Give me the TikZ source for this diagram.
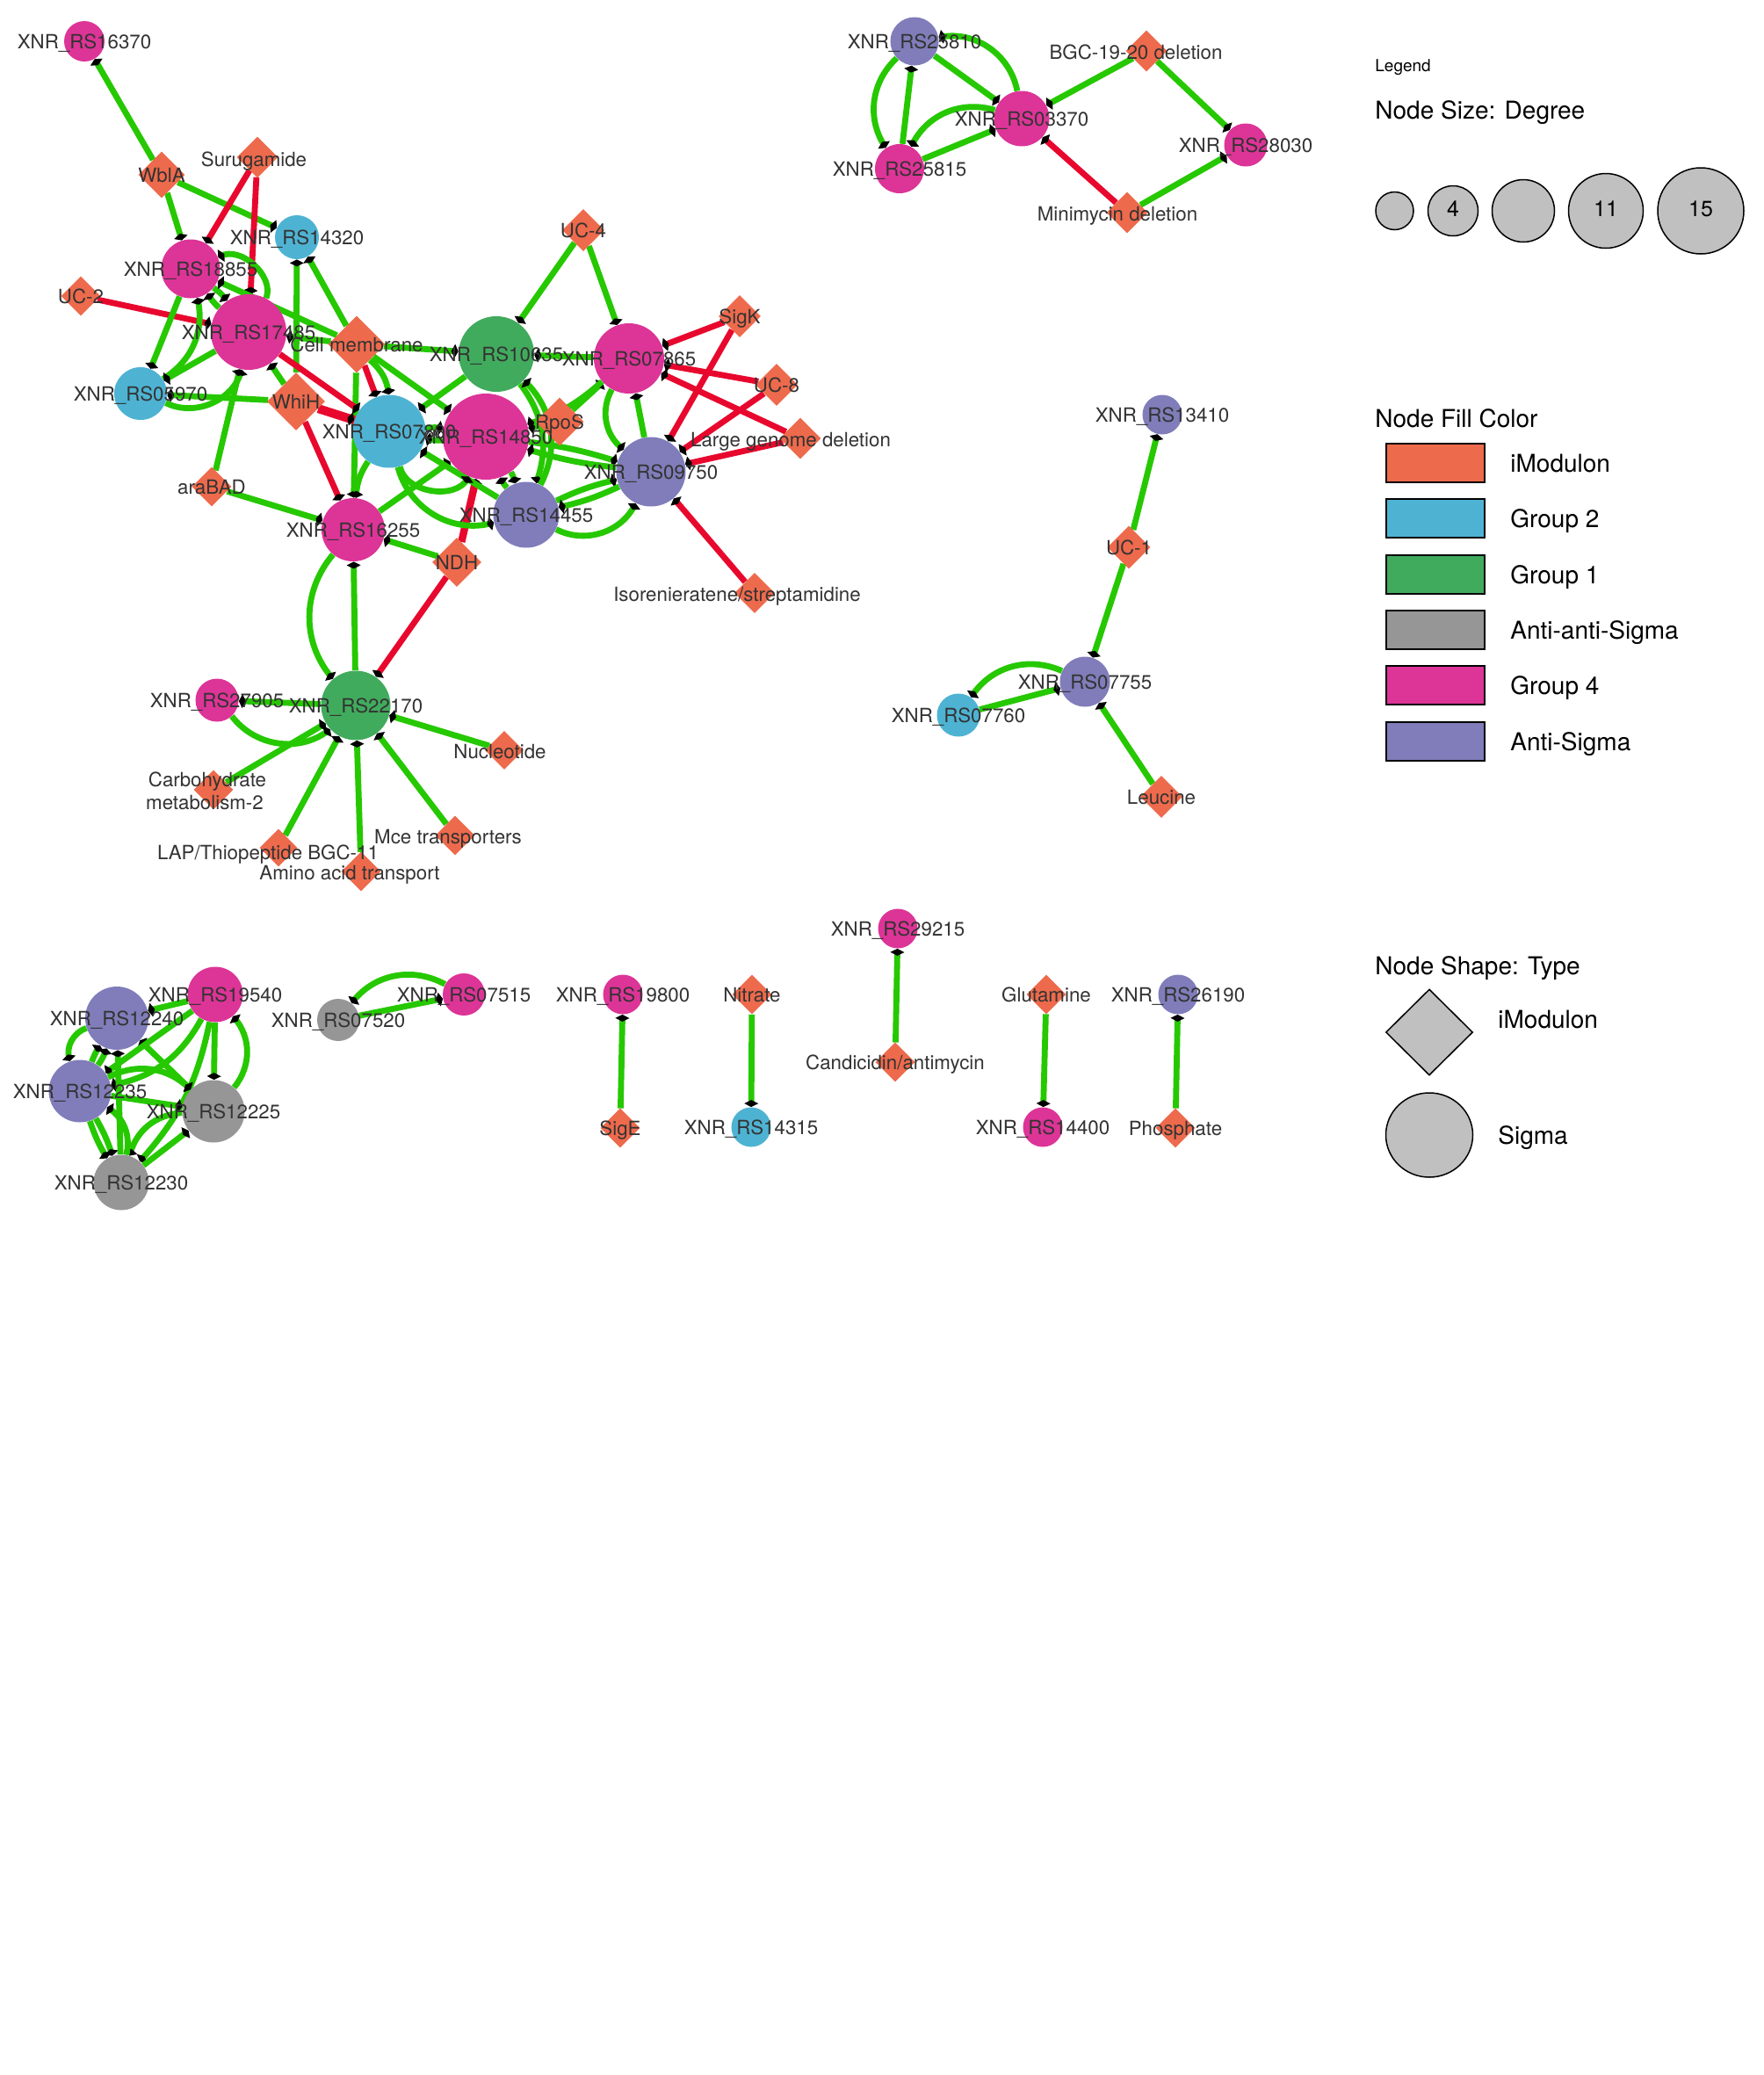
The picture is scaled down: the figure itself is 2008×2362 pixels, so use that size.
\documentclass[tikz,border=0pt]{standalone}
\usepackage{fontspec}
\setmainfont{TeX Gyre Heros}
\usetikzlibrary{shapes.geometric,arrows.meta}
\definecolor{cimod}{HTML}{EE6A4C}
\definecolor{cgtwo}{HTML}{4EB3D3}
\definecolor{cgone}{HTML}{41AB5D}
\definecolor{caas}{HTML}{969696}
\definecolor{cgfour}{HTML}{DD3497}
\definecolor{cas}{HTML}{807DBA}
\definecolor{egreen}{HTML}{26C800}
\definecolor{ered}{HTML}{E8082E}
\definecolor{ltxt}{HTML}{333333}
\definecolor{lgray}{HTML}{C0C0C0}
\pgfdeclarelayer{bglayer}
\pgfdeclarelayer{edgelayer}
\pgfdeclarelayer{labellayer}
\pgfsetlayers{bglayer,edgelayer,main,labellayer}
\tikzset{
  sigma/.style={circle,inner sep=0pt,draw=none},
  imod/.style={diamond,inner sep=0pt,draw=none,fill=cimod},
  lbl/.style={inner sep=0pt,text=ltxt,font=\fontsize{11.15}{13}\selectfont,text height=8pt,text depth=0pt},
  ge/.style={draw=egreen,line width=3.4pt,-{Diamond[length=4pt,width=8pt,color=black,fill=black]}},
  re/.style={ge,draw=ered},
  lgt/.style={inner sep=0pt,anchor=west,font=\fontsize{14}{16}\selectfont,text height=10pt,text depth=0pt},
  lgbox/.style={draw=black,line width=0.75pt},
}
\newcommand\xnr[1]{XNR\_RS#1}
\newcommand\SG[6]{\node[sigma,fill=#4,minimum size=#5*0.5pt] (#1) at (#2,#3) {};
  \begin{pgfonlayer}{labellayer}\node[lbl] at (#2,#3) {#6};\end{pgfonlayer}}
\newcommand\IM[5]{\node[imod,minimum width=#4*0.5pt,minimum height=#4*0.5pt] (#1) at (#2,#3) {};
  \begin{pgfonlayer}{labellayer}\node[lbl] at (#2,#3) {#5};\end{pgfonlayer}}
\newcommand\IMl[7]{\node[imod,minimum width=#4*0.5pt,minimum height=#4*0.5pt] (#1) at (#2,#3) {};
  \begin{pgfonlayer}{labellayer}\node[lbl] at (#5,#6) {#7};\end{pgfonlayer}}
\begin{document}
\begin{tikzpicture}[x=0.5pt,y=-0.5pt]
\begin{pgfonlayer}{bglayer}
\fill[white] (0,0) rectangle (2008,2362);
\end{pgfonlayer}
\useasboundingbox (0,0) rectangle (2008,2362);
% ---------------- main cluster nodes
\SG{s16370}{96}{47}{cgfour}{46}{\xnr{16370}}
\IM{WblA}{184}{199}{53}{WblA}
\IMl{Suru}{293}{179}{47}{289}{181}{Surugamide}
\SG{s14320}{338}{270}{cgtwo}{50}{\xnr{14320}}
\IM{UCfour}{664}{262}{48}{UC-4}
\SG{s18855}{217}{306}{cgfour}{67}{\xnr{18855}}
\IM{UCtwo}{92}{337}{45}{UC-2}
\SG{s17485}{283}{378}{cgfour}{86}{\xnr{17485}}
\IM{CellM}{406}{392}{65}{Cell membrane}
\SG{s10635}{565}{403}{cgone}{86}{\xnr{10635}}
\SG{s05970}{160}{448}{cgtwo}{60}{\xnr{05970}}
\IM{WhiH}{337}{457}{66}{WhiH}
\SG{s07xx}{443}{491}{cgtwo}{83}{\xnr{07880}}
\SG{s14850}{553}{497}{cgfour}{98}{\xnr{14850}}
\IM{RpoS}{637}{480}{55}{RpoS}
\SG{s07865}{716}{408}{cgfour}{80}{\xnr{07865}}
\IM{SigK}{842}{360}{48}{SigK}
\IM{UCeight}{884}{438}{48}{UC-8}
\IMl{LGD}{911}{499}{47}{900}{500}{Large genome deletion}
\SG{s09750}{741}{537}{cas}{79}{\xnr{09750}}
\SG{s14455}{599}{586}{cas}{75}{\xnr{14455}}
\SG{s16255}{402}{603}{cgfour}{72}{\xnr{16255}}
\IM{NDH}{520}{640}{56}{NDH}
\IM{araBAD}{241}{554}{45}{araBAD}
\IMl{Isor}{859}{675}{46}{839}{676}{Isorenieratene/streptamidine}
\SG{s22170}{405}{803}{cgone}{79}{\xnr{22170}}
\SG{s27905}{247}{797}{cgfour}{49}{\xnr{27905}}
\IMl{Nucl}{574}{854}{44}{569}{855}{Nucleotide}
\node[imod,minimum width=45*0.5pt,minimum height=45*0.5pt] (Carbo) at (243,899) {};
\begin{pgfonlayer}{labellayer}
\node[lbl] at (236,887) {Carbohydrate};
\node[lbl] at (233,913) {metabolism-2};
\end{pgfonlayer}
\IMl{LAP}{317}{965}{43}{305}{970}{LAP/Thiopeptide BGC-11}
\IMl{Amino}{411}{992}{45}{398}{993}{Amino acid transport}
\IMl{Mce}{518}{951}{45}{510}{952}{Mce transporters}
% ---------------- top middle
\SG{s25810}{1041}{47}{cas}{55}{\xnr{25810}}
\SG{s03370}{1163}{135}{cgfour}{63}{\xnr{03370}}
\SG{s25815}{1024}{192}{cgfour}{56}{\xnr{25815}}
\IMl{BGC}{1305}{58}{47}{1293}{59}{BGC-19-20 deletion}
\SG{s28030}{1418}{165}{cgfour}{49}{\xnr{28030}}
\IMl{Mini}{1283}{242}{47}{1272}{243}{Minimycin deletion}
% ---------------- right middle
\SG{s13410}{1323}{472}{cas}{45}{\xnr{13410}}
\IM{UCone}{1285}{623}{49}{UC-1}
\SG{s07755}{1235}{776}{cas}{57}{\xnr{07755}}
\SG{s07760}{1091}{814}{cgtwo}{49}{\xnr{07760}}
\IM{Leuc}{1322}{907}{48}{Leucine}
% ---------------- bottom left
\SG{s19540}{245}{1132}{cgfour}{63}{\xnr{19540}}
\SG{s12240}{133}{1159}{cas}{72}{\xnr{12240}}
\SG{s12235}{91}{1242}{cas}{71}{\xnr{12235}}
\SG{s12225}{243}{1265}{caas}{71}{\xnr{12225}}
\SG{s12230}{138}{1346}{caas}{63}{\xnr{12230}}
\SG{s07520}{385}{1161}{caas}{48}{\xnr{07520}}
\SG{s07515}{528}{1132}{cgfour}{48}{\xnr{07515}}
% ---------------- small pairs
\SG{s19800}{709}{1132}{cgfour}{45}{\xnr{19800}}
\IM{SigE}{706}{1284}{45}{SigE}
\IM{Nitr}{856}{1132}{45}{Nitrate}
\SG{s14315}{855}{1283}{cgtwo}{45}{\xnr{14315}}
\SG{s29215}{1022}{1057}{cgfour}{45}{\xnr{29215}}
\IM{Cand}{1019}{1209}{45}{Candicidin/antimycin}
\IM{Glut}{1191}{1132}{45}{Glutamine}
\SG{s14400}{1187}{1283}{cgfour}{45}{\xnr{14400}}
\SG{s26190}{1341}{1132}{cas}{45}{\xnr{26190}}
\IM{Phos}{1338}{1284}{45}{Phosphate}
% ---------------- edges
\begin{pgfonlayer}{edgelayer}
\draw[ge] (WblA) -- (s16370);
\draw[ge] (WblA) -- (s14320);
\draw[ge] (WblA) -- (s18855);
\draw[re] (Suru) -- (s18855);
\draw[re] (Suru) -- (s17485);
\draw[re] (UCtwo) -- (s17485);
\draw[ge] (s18855) to[bend left=8] (s17485);
\draw[ge] (s17485) to[bend left=8] (s18855);
\draw[ge] (s17485) to[bend right=70] (s18855);
\draw[ge] (s18855) -- (s05970);
\draw[ge] (s05970) to[bend right=35] (s18855);
\draw[ge] (s17485) -- (s05970);
\draw[ge] (s05970) to[bend right=50] (s17485);
\draw[ge] (WhiH) -- (s05970);
\draw[ge] (WhiH) -- (s17485);
\draw[ge] (WhiH) -- (s14320);
\draw[ge] (CellM) -- (s14320);
\draw[ge] (CellM) -- (s17485);
\draw[ge] (CellM) -- (s18855);
\draw[ge] (CellM) -- (s10635);
\draw[re] (CellM) -- (s07xx);
\draw[ge] (CellM) to[bend left=20] (s07xx);
\draw[ge] (CellM) -- (s14850);
\draw[ge] (CellM) -- (s16255);
\draw[re,line width=5pt] (WhiH) -- (s07xx);
\draw[re] (s17485) -- (s07xx);
\draw[re] (WhiH) -- (s16255);
\draw[ge] (araBAD) -- (s17485);
\draw[ge] (araBAD) -- (s16255);
\draw[ge] (s07xx) to[bend right=15] (s16255);
\draw[ge] (s16255) -- (s14850);
\draw[ge] (NDH) -- (s16255);
\draw[re,line width=4.2pt] (NDH) -- (s14850);
\draw[re] (NDH) -- (s22170);
\draw[ge] (s22170) -- (s16255);
\draw[ge] (s16255) to[bend right=40] (s22170);
\draw[ge] (s22170) -- (s27905);
\draw[ge] (s27905) to[bend right=45] (s22170);
\draw[ge] (Carbo) -- (s22170);
\draw[ge] (LAP) -- (s22170);
\draw[ge] (Amino) -- (s22170);
\draw[ge] (Mce) -- (s22170);
\draw[ge] (Nucl) -- (s22170);
% central
\draw[ge] (UCfour) -- (s10635);
\draw[ge] (UCfour) -- (s07865);
\draw[ge] (s07865) -- (s10635);
\draw[re] (SigK) -- (s07865);
\draw[re] (UCeight) -- (s07865);
\draw[re] (LGD) -- (s07865);
\draw[re] (SigK) -- (s09750);
\draw[re] (UCeight) -- (s09750);
\draw[re] (LGD) -- (s09750);
\draw[re] (Isor) -- (s09750);
\draw[ge] (s09750) -- (s07865);
\draw[ge] (s07865) to[bend right=40] (s09750);
\draw[ge] (s10635) -- (s07xx);
\draw[ge] (RpoS) -- (s07865);
\draw[ge] (RpoS) -- (s14850);
\draw[ge] (s07865) to[bend left=12] (s14850);
\draw[ge] (s10635) to[bend left=28] (s14455);
\draw[ge] (s14455) to[bend right=36] (s10635);
\draw[ge] (s14850) to[bend left=8] (s14455);
\draw[ge] (s14455) to[bend left=8] (s14850);
\draw[ge] (s14455) -- (s07xx);
\draw[ge] (s07xx) to[bend right=45] (s14455);
\draw[ge] (s07xx) to[bend right=70] (s14850);
\draw[ge] (s07xx) to[bend left=8] (s14850);
\draw[ge] (s14850) to[bend left=8] (s07xx);
\draw[ge] (s14850) to[bend left=5] (s09750);
\draw[ge] (s09750) to[bend left=5] (s14850);
\draw[ge] (s14455) to[bend left=6] (s09750);
\draw[ge] (s09750) to[bend left=6] (s14455);
\draw[ge] (s14455) to[bend right=45] (s09750);
% top middle
\draw[ge] (BGC) -- (s03370);
\draw[ge] (BGC) -- (s28030);
\draw[re] (Mini) -- (s03370);
\draw[ge] (Mini) -- (s28030);
\draw[ge] (s25810) -- (s03370);
\draw[ge] (s03370) to[bend right=45] (s25810);
\draw[ge] (s25815) -- (s25810);
\draw[ge] (s25810) to[bend right=40] (s25815);
\draw[ge] (s25815) -- (s03370);
\draw[ge] (s03370) to[bend right=40] (s25815);
% right middle
\draw[ge] (UCone) -- (s13410);
\draw[ge] (UCone) -- (s07755);
\draw[ge] (Leuc) -- (s07755);
\draw[ge] (s07760) -- (s07755);
\draw[ge] (s07755) to[bend right=40] (s07760);
% bottom left
\draw[ge] (s19540) -- (s12240);
\draw[ge] (s19540) -- (s12225);
\draw[ge] (s12225) to[bend right=40] (s19540);
\draw[ge] (s12240) to[bend right=45] (s12235);
\draw[ge] (s12235) to[bend left=5] (s12240);
\draw[ge] (s12235) to[bend right=8] (s12240);
\draw[ge] (s12225) -- (s12240);
\draw[ge] (s19540) -- (s12235);
\draw[ge] (s19540) to[bend left=25] (s12235);
\draw[ge] (s19540) to[bend left=15] (s12230);
\draw[ge] (s12230) -- (s12240);
\draw[ge] (s12235) -- (s12225);
\draw[ge] (s12235) to[bend left=35] (s12225);
\draw[ge] (s12235) to[bend left=6] (s12230);
\draw[ge] (s12235) to[bend right=6] (s12230);
\draw[ge] (s12230) -- (s12225);
\draw[ge] (s12225) to[bend right=35] (s12230);
\draw[ge] (s12230) to[bend right=35] (s12235);
\draw[ge] (s07520) -- (s07515);
\draw[ge] (s07515) to[bend right=40] (s07520);
% pairs
\draw[ge] (SigE) -- (s19800);
\draw[ge] (Nitr) -- (s14315);
\draw[ge] (Cand) -- (s29215);
\draw[ge] (Glut) -- (s14400);
\draw[ge] (Phos) -- (s26190);
\end{pgfonlayer}
% ---------------- legend
\node[inner sep=0pt,anchor=west,font=\fontsize{9.5}{11}\selectfont,text height=6.8pt,text depth=0pt] (lgtitle) at (1565,74.5) {Legend};
\node[lgt] (lgsize) at (1565,125) {Node Size: Degree};
\node[circle,lgbox,fill=lgray,inner sep=0pt,minimum size=43*0.5pt] (dA) at (1587.5,240) {};
\node[circle,lgbox,fill=lgray,inner sep=0pt,minimum size=57*0.5pt] (dB) at (1654,240) {};
\node[circle,lgbox,fill=lgray,inner sep=0pt,minimum size=71*0.5pt] (dC) at (1734,240) {};
\node[circle,lgbox,fill=lgray,inner sep=0pt,minimum size=85*0.5pt] (dD) at (1828,240) {};
\node[circle,lgbox,fill=lgray,inner sep=0pt,minimum size=98*0.5pt] (dE) at (1936,240) {};
\node[inner sep=0pt,font=\fontsize{12.5}{14}\selectfont,text height=9pt,text depth=0pt] (nB) at (1654,237) {4};
\node[inner sep=0pt,font=\fontsize{12.5}{14}\selectfont,text height=9pt,text depth=0pt] (nD) at (1828,237) {11};
\node[inner sep=0pt,font=\fontsize{12.5}{14}\selectfont,text height=9pt,text depth=0pt] (nE) at (1936,237) {15};
\node[lgt] (lgfill) at (1565,476) {Node Fill Color};
\draw[lgbox,fill=cimod] (1578,505) rectangle (1690,549);
\draw[lgbox,fill=cgtwo] (1578,568) rectangle (1690,612);
\draw[lgbox,fill=cgone] (1578,632) rectangle (1690,676);
\draw[lgbox,fill=caas] (1578,695) rectangle (1690,739);
\draw[lgbox,fill=cgfour] (1578,758) rectangle (1690,802);
\draw[lgbox,fill=cas] (1578,822) rectangle (1690,866);
\node[lgt] (fa) at (1719,527) {iModulon};
\node[lgt] (fb) at (1719,590) {Group 2};
\node[lgt] (fc) at (1719,654) {Group 1};
\node[lgt] (fd) at (1719,717) {Anti-anti-Sigma};
\node[lgt] (fe) at (1719,780) {Group 4};
\node[lgt] (ff) at (1719,844) {Anti-Sigma};
\node[lgt] (lgshape) at (1565,1099) {Node Shape: Type};
\node[diamond,lgbox,fill=lgray,inner sep=0pt,minimum width=99*0.5pt,minimum height=98*0.5pt] (shA) at (1627,1175) {};
\node[ellipse,lgbox,fill=lgray,inner sep=0pt,minimum width=99*0.5pt,minimum height=96*0.5pt] (shB) at (1627,1292) {};
\node[lgt] (sa) at (1705,1160) {iModulon};
\node[lgt] (sb) at (1705,1292) {Sigma};
\end{tikzpicture}
\end{document}
